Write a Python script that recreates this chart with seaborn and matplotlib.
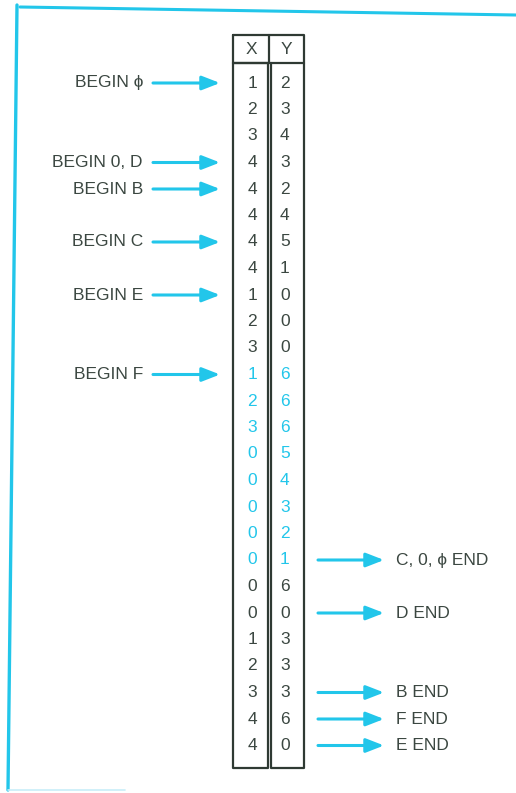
import matplotlib
matplotlib.use("Agg")
import matplotlib.pyplot as plt
import numpy as np
import pandas as pd
import seaborn as sns

# table values, top to bottom
x_vals = [1, 2, 3, 4, 4, 4, 4, 4, 1, 2, 3, 1, 2, 3, 0, 0, 0, 0, 0, 0, 0, 1, 2, 3, 4, 4]
y_vals = [2, 3, 4, 3, 2, 4, 5, 1, 0, 0, 0, 6, 6, 6, 5, 4, 3, 2, 1, 6, 0, 3, 3, 3, 6, 0]
highlight_rows = [11, 12, 13, 14, 15, 16, 17, 18]   # rows printed in cyan
columns = ["X", "Y"]

# arrow labels: row index -> text
begin_labels = {0: "BEGIN \u03d5", 3: "BEGIN 0, D", 4: "BEGIN B", 6: "BEGIN C",
                8: "BEGIN E", 11: "BEGIN F"}
end_labels = {18: "C, 0, \u03d5 END", 20: "D END", 23: "B END", 24: "F END",
              25: "E END"}

CYAN = "#22c6ea"
INK = "#3b4741"
FONT = ["Liberation Sans", "DejaVu Sans"]

sns.set_theme(style="white")
plt.rcParams["font.family"] = FONT

W, H = 516, 793
fig = plt.figure(figsize=(W / 100, H / 100), dpi=100)
fig.patch.set_facecolor("white")

row0, step = 83, 26.5
def row_y(i):
    return row0 + step * i

left, mid, right = 233, 269, 304
head_top, body_top, body_bot = 35, 63, 768

# table body as a heatmap with annotated cells
df = pd.DataFrame({"X": x_vals, "Y": y_vals})
n = len(df)
hm_top = row_y(0) - step / 2
hm = fig.add_axes([(left + 3) / W, 1 - (hm_top + step * n) / H,
                   (right - left - 6) / W, step * n / H])
hm.set_zorder(1)
sns.heatmap(df, ax=hm, cmap=matplotlib.colors.ListedColormap(["white"]),
            cbar=False, annot=True, fmt="d", linewidths=0,
            annot_kws={"fontsize": 12.5, "color": INK})
hm.set_xticks([])
hm.set_yticks([])
hm.set_xlabel("")
hm.set_ylabel("")
for spine in hm.spines.values():
    spine.set_visible(False)
for k, t in enumerate(hm.texts):
    r = k // 2
    t.set_color(CYAN if r in highlight_rows else INK)
    t.set_fontfamily(FONT)

# overlay in pixel-like layout units, drawn above the heatmap
ax = fig.add_axes([0, 0, 1, 1])
ax.set_zorder(2)
ax.patch.set_alpha(0)
ax.set_xlim(0, W)
ax.set_ylim(H, 0)
ax.axis("off")

# table outlines
edge = "#2f3a33"
ax.plot([left, right, right, left, left], [head_top, head_top, body_top, body_top, head_top],
        color=edge, lw=1.6)
ax.plot([mid, mid], [head_top, body_top], color=edge, lw=1.6)
ax.plot([left, left, mid - 1.5, mid - 1.5, left], [body_top, body_bot, body_bot, body_top, body_top],
        color=edge, lw=1.6)
ax.plot([mid + 1.5, mid + 1.5, right, right], [body_top, body_bot, body_bot, body_top],
        color=edge, lw=1.6)
for c, xc in zip(columns, [(left + mid) / 2, (mid + right) / 2]):
    ax.text(xc, (head_top + body_top) / 2 + 1, c, ha="center", va="center",
            fontsize=12.5, color=INK)

# arrows and labels
arrow = dict(arrowstyle="-|>,head_length=0.9,head_width=0.35", color=CYAN, lw=2.2,
             shrinkA=0, shrinkB=0)
for r, txt in begin_labels.items():
    y = row_y(r)
    ax.annotate("", xy=(220, y), xytext=(153, y), arrowprops=arrow)
    ax.text(143, y, txt, ha="right", va="center", fontsize=12.5, color=INK)
for r, txt in end_labels.items():
    y = row_y(r)
    ax.annotate("", xy=(384, y), xytext=(318, y), arrowprops=arrow)
    ax.text(396, y, txt, ha="left", va="center", fontsize=12.5, color=INK)

# page frame lines
ax.plot([20, W], [7, 15], color=CYAN, lw=2.2)
ax.plot([17, 8], [5, 790], color=CYAN, lw=2.4)
ax.plot([8, 125], [790, 790], color="#c8eef8", lw=1.2)

fig.savefig("out.png", dpi=100, facecolor="white")
